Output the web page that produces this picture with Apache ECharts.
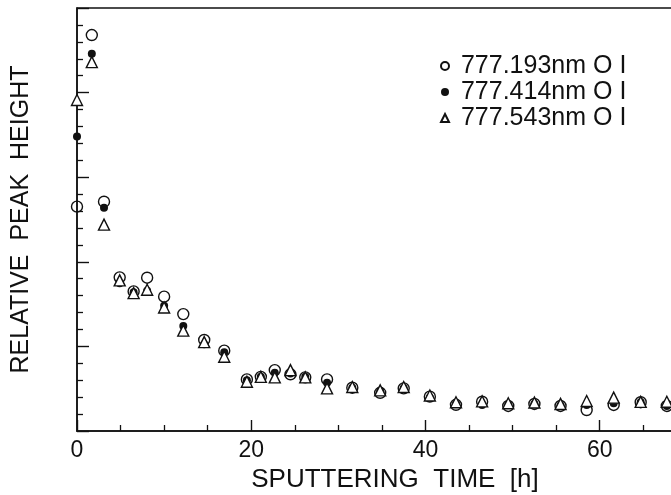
<!DOCTYPE html>
<html>
<head>
<meta charset="utf-8">
<script src="https://cdn.jsdelivr.net/npm/echarts@6/dist/echarts.min.js"></script>
<style>
    html, body { margin: 0; padding: 0; background: #fff; }
    #main { width: 671px; height: 495px; }
</style>
</head>
<body>
<div id="main"></div>
<script>
// sputtering time [h] for each measurement
var times = [0, 1.7, 3.1, 4.9, 6.5, 8.05, 10.0, 12.2, 14.6, 16.9, 19.5, 21.1, 22.7, 24.5, 26.2,
    28.7, 31.6, 34.8, 37.5, 40.5, 43.5, 46.5, 49.5, 52.5, 55.5, 58.5, 61.6, 64.7, 67.7];

// relative peak height (arbitrary units, axis has no labels)
var line193 = [13.26, 23.4, 13.55, 9.08, 8.25, 9.06, 7.94, 6.91, 5.38, 4.75, 3.05, 3.2, 3.6, 3.35, 3.17,
    3.05, 2.56, 2.26, 2.52, 2.03, 1.55, 1.73, 1.48, 1.6, 1.48, 1.24, 1.54, 1.7, 1.48];
var line414 = [17.4, 22.3, 13.2, 8.73, 8.2, 8.29, 7.4, 6.2, 5.12, 4.65, 3.0, 3.2, 3.45, 3.4, 3.2,
    2.85, 2.56, 2.35, 2.52, 1.98, 1.6, 1.54, 1.55, 1.6, 1.5, 1.54, 1.64, 1.7, 1.48];
var line543 = [19.56, 21.8, 12.2, 8.9, 8.15, 8.35, 7.3, 5.93, 5.25, 4.39, 2.91, 3.2, 3.17, 3.6, 3.17,
    2.52, 2.6, 2.4, 2.6, 2.1, 1.7, 1.75, 1.64, 1.68, 1.6, 1.77, 1.97, 1.72, 1.73];

var names = ['777.193nm O I', '777.414nm O I', '777.543nm O I'];
var xTicks = [0, 20, 40, 60];

var font = "'Liberation Sans', Arial, Helvetica, sans-serif";
var ink = '#111';

function pairs(ys) {
    return times.map(function (t, i) { return [t, ys[i]]; });
}

var myChart = echarts.init(document.getElementById('main'));
myChart.setOption({
    animation: false,
    backgroundColor: '#fff',
    // plot area runs past the right edge of the picture (cropped scan)
    grid: {
        left: 77, top: 8, width: 636, height: 423,
        outerBoundsMode: 'none',
        show: true, borderColor: ink, borderWidth: 1.4
    },
    legend: {
        orient: 'vertical',
        left: 435, top: 48,
        itemWidth: 8, itemHeight: 8, itemGap: 0,
        formatter: function (n) { return ' ' + n; },
        textStyle: { fontFamily: font, fontSize: 25, color: ink, lineHeight: 26 },
        data: names
    },
    xAxis: {
        type: 'value',
        min: 0, max: 73, interval: 20,
        name: 'SPUTTERING  TIME  [h]',
        nameLocation: 'middle', nameGap: 33,
        nameTextStyle: { fontFamily: font, fontSize: 26, color: ink },
        axisLine: { lineStyle: { color: ink, width: 1.6 } },
        axisTick: { inside: true, length: 11, lineStyle: { color: ink, width: 1.4 } },
        minorTick: { show: true, splitNumber: 4, length: 6, lineStyle: { color: ink, width: 1.3 } },
        axisLabel: {
            fontFamily: font, fontSize: 23, color: ink, margin: 8,
            formatter: function (v) { return xTicks.indexOf(v) >= 0 ? v : ''; }
        },
        splitLine: { show: false }
    },
    yAxis: {
        type: 'value',
        min: 0, max: 25, interval: 5,
        name: 'RELATIVE  PEAK  HEIGHT',
        nameLocation: 'middle', nameGap: 43,
        nameTextStyle: { fontFamily: font, fontSize: 25, color: ink },
        axisLine: { show: true, lineStyle: { color: ink, width: 1.6 } },
        axisTick: { inside: true, length: 12, lineStyle: { color: ink, width: 1.4 } },
        minorTick: { show: true, splitNumber: 5, length: 6, lineStyle: { color: ink, width: 1.3 } },
        axisLabel: { show: false },
        splitLine: { show: false }
    },
    series: [
        {
            name: names[0], type: 'scatter', clip: false,
            symbol: 'circle', symbolSize: 11,
            itemStyle: { color: 'rgba(255,255,255,0)', borderColor: ink, borderWidth: 1.4, opacity: 1 },
            data: pairs(line193)
        },
        {
            name: names[1], type: 'scatter', clip: false,
            symbol: 'circle', symbolSize: 8,
            itemStyle: { color: ink, opacity: 1 },
            data: pairs(line414)
        },
        {
            name: names[2], type: 'scatter', clip: false,
            symbol: 'triangle', symbolSize: 11,
            itemStyle: { color: '#fff', borderColor: ink, borderWidth: 1.4, opacity: 1 },
            data: pairs(line543)
        }
    ]
});
</script>
</body>
</html>
